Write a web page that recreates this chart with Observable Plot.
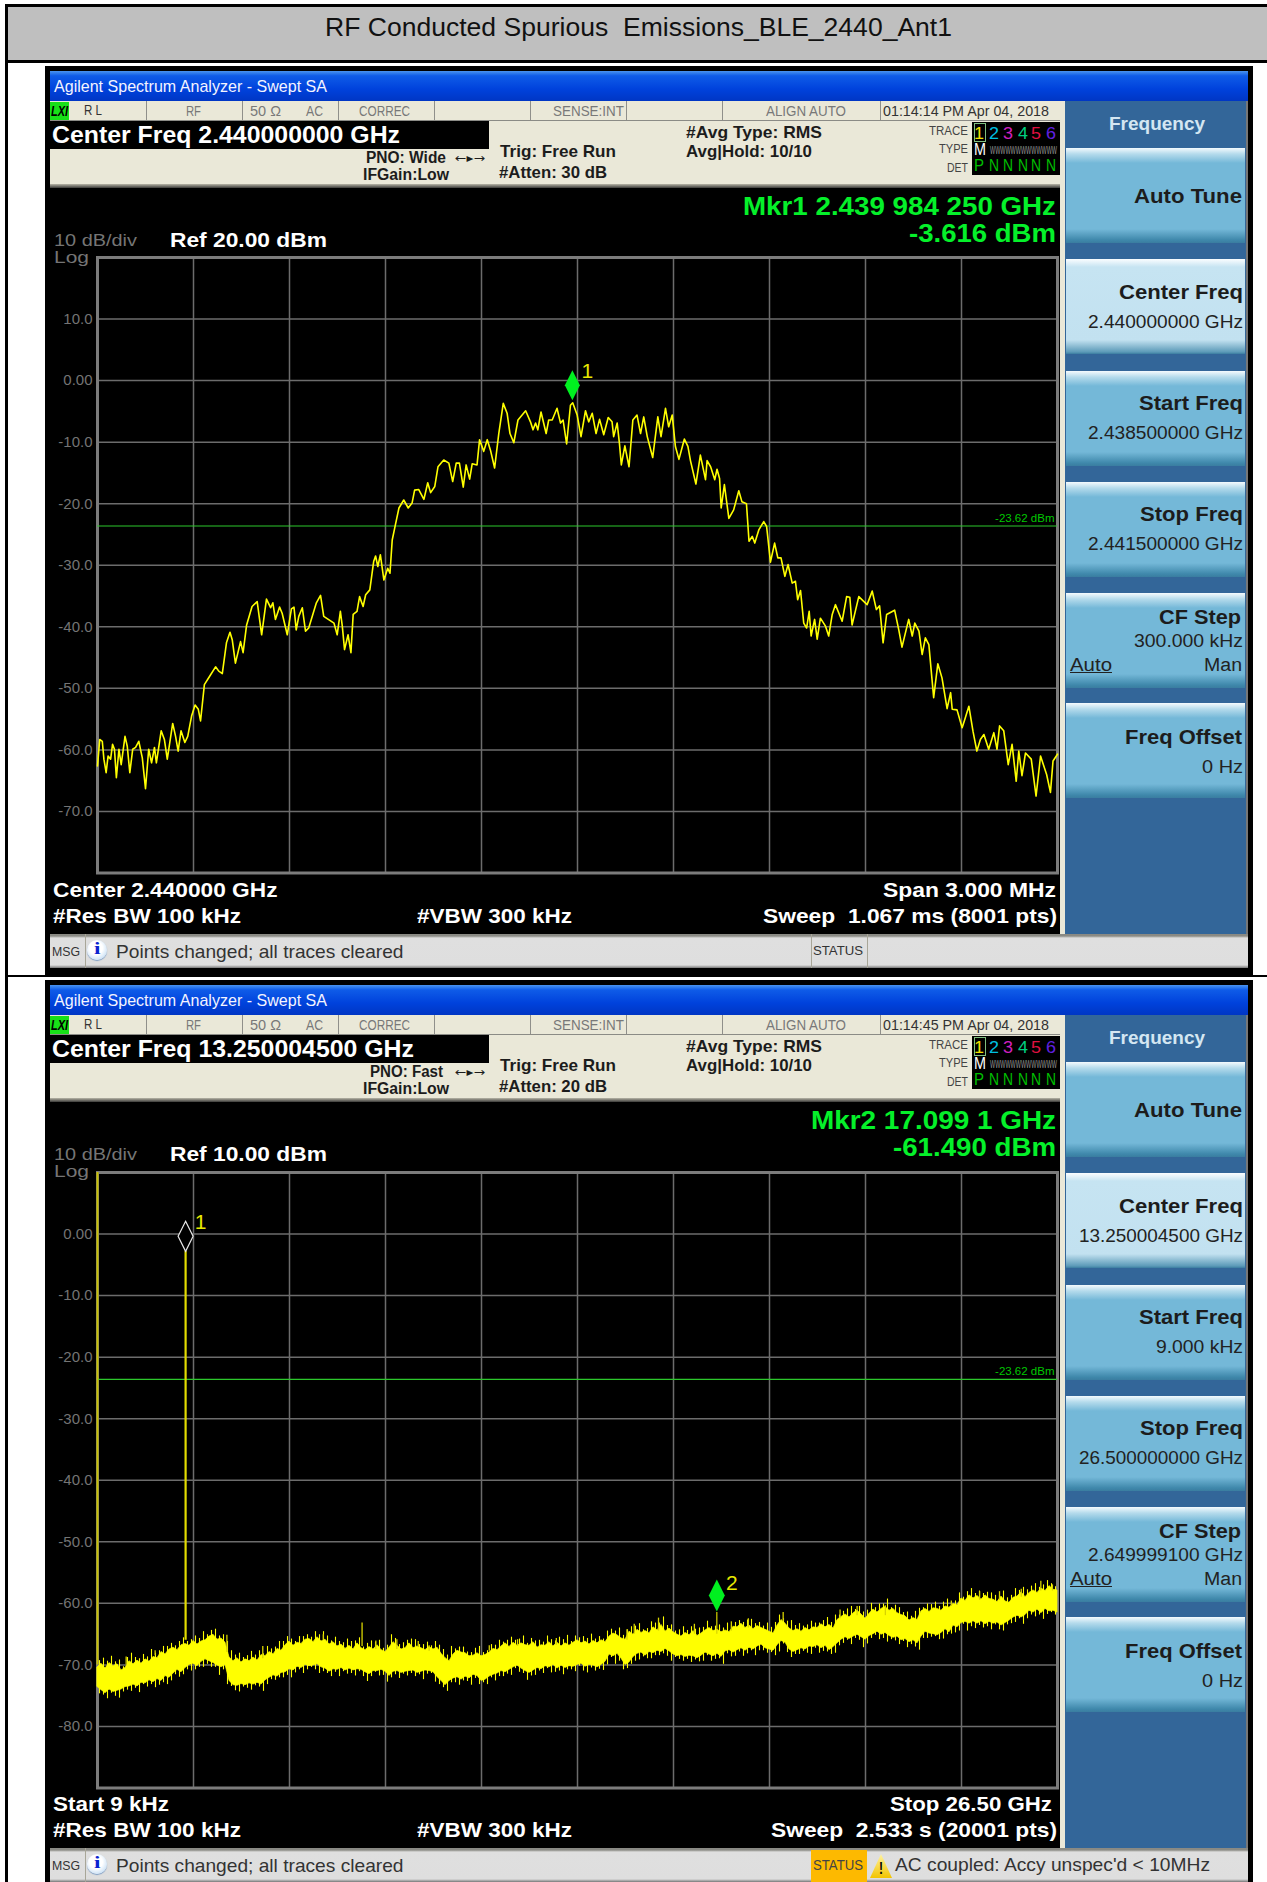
<!DOCTYPE html>
<html><head><meta charset="utf-8">
<script src="https://cdn.jsdelivr.net/npm/d3@7"></script>
<script src="https://cdn.jsdelivr.net/npm/@observablehq/plot@0.6"></script>
<style>
html,body{margin:0;padding:0;background:#fff}
#page{position:relative;width:1267px;height:1882px;overflow:hidden;background:#fff;font-family:"Liberation Sans",Arial,sans-serif}
#page div.b{position:absolute}
#page span.t{position:absolute;white-space:pre;line-height:1;transform-origin:left center}
svg.plot-abs{position:absolute}
</style></head><body><div id="page"></div>
<script>
// ---------- Panel 1: in-band sweep, centre 2.44 GHz, span 3 MHz (offset from start in kHz, level in dBm)
const traceKhz=[0,7,15,20,27,33,41,47,53,59,67,74,86,93,101,110,119,129,140,150,160,169,178,184,199,209,218,235,244,252,261,273,282,294,305,315,322,334,351,369,379,390,403,414,421,431,447,455,466,483,499,513,528,541,548,556,569,577,593,606,614,621,629,640,650,660,684,697,707,739,749,759,765,772,783,792,799,811,819,830,838,851,863,869,876,884,895,907,914,921,931,942,957,971,983,991,1004,1020,1032,1041,1054,1064,1082,1098,1110,1121,1131,1143,1152,1163,1171,1186,1194,1207,1218,1228,1241,1254,1268,1280,1289,1301,1314,1338,1353,1361,1369,1376,1386,1402,1410,1421,1436,1447,1455,1466,1478,1485,1499,1511,1525,1535,1546,1558,1569,1582,1596,1608,1613,1624,1631,1637,1648,1661,1673,1686,1697,1707,1718,1735,1751,1761,1775,1785,1796,1806,1817,1834,1845,1853,1870,1884,1900,1905,1916,1929,1936,1944,1949,1959,1973,1988,2004,2014,2028,2036,2046,2054,2067,2082,2091,2103,2116,2126,2136,2148,2158,2171,2181,2188,2197,2207,2216,2224,2230,2241,2249,2259,2275,2285,2296,2306,2327,2341,2351,2358,2379,2405,2421,2434,2444,2455,2466,2491,2504,2514,2535,2546,2554,2567,2577,2587,2598,2613,2626,2639,2655,2666,2671,2686,2702,2710,2723,2736,2748,2759,2770,2785,2801,2811,2819,2832,2846,2858,2871,2879,2889,2900,2918,2933,2947,2966,2978,2986,3000];
const traceDbm=[-62.6,-58.3,-58.6,-61.5,-63.7,-61.0,-61.5,-59.1,-59.9,-64.5,-59.9,-62.4,-57.8,-59.4,-63.7,-59.9,-59.6,-58.6,-61.3,-66.3,-59.9,-62.1,-59.6,-62.1,-56.9,-58.3,-61.5,-55.7,-57.8,-60.2,-56.9,-58.8,-57.8,-54.5,-52.7,-53.4,-55.3,-49.4,-48.0,-46.5,-47.2,-47.6,-42.6,-40.9,-42.1,-45.9,-42.4,-44.2,-39.7,-36.7,-35.9,-41.3,-35.5,-36.9,-36.1,-38.8,-36.8,-37.8,-41.3,-37.1,-36.8,-40.5,-38.3,-36.9,-40.7,-40.2,-36.1,-34.9,-38.3,-39.4,-41.3,-37.5,-39.9,-43.7,-41.3,-44.2,-38.0,-37.5,-35.1,-36.7,-34.8,-34.0,-29.4,-28.5,-30.2,-28.3,-32.4,-30.5,-31.3,-25.9,-23.4,-20.7,-19.4,-20.7,-19.9,-17.8,-17.7,-19.3,-16.6,-18.2,-17.2,-14.0,-12.9,-13.4,-16.4,-13.4,-13.4,-17.3,-13.7,-16.0,-13.5,-13.7,-9.6,-11.5,-9.6,-11.3,-14.2,-8.6,-3.7,-5.3,-8.6,-10.1,-6.4,-4.9,-6.7,-8.0,-6.9,-8.0,-5.1,-8.6,-6.4,-6.4,-4.5,-6.9,-6.4,-10.3,-4.0,-3.6,-5.6,-9.1,-4.9,-6.7,-5.3,-8.6,-6.3,-8.8,-6.0,-6.7,-9.1,-6.9,-10.2,-13.7,-10.6,-14.0,-6.4,-5.6,-8.6,-5.9,-9.1,-12.5,-5.9,-9.1,-4.5,-7.5,-5.6,-10.7,-12.8,-9.5,-10.7,-13.0,-16.8,-12.1,-16.1,-13.0,-14.0,-16.1,-14.4,-15.9,-20.7,-16.9,-22.4,-21.0,-17.9,-19.7,-20.0,-26.1,-25.3,-26.4,-24.2,-22.9,-23.7,-29.5,-26.4,-28.8,-28.8,-31.8,-29.9,-32.9,-32.6,-35.6,-34.1,-39.4,-40.2,-37.5,-41.5,-38.8,-42.0,-38.6,-39.9,-41.5,-38.0,-36.4,-39.1,-35.1,-35.2,-39.7,-35.1,-36.4,-34.2,-37.2,-36.6,-42.6,-38.0,-37.3,-40.5,-43.3,-38.8,-41.5,-39.4,-40.7,-44.5,-41.8,-42.9,-51.5,-46.0,-48.3,-53.3,-50.7,-53.4,-53.5,-56.4,-55.1,-52.9,-57.0,-60.2,-58.3,-57.5,-59.9,-57.2,-59.9,-56.1,-56.9,-62.4,-59.1,-65.1,-60.2,-64.2,-60.5,-61.5,-67.5,-61.0,-64.0,-66.9,-61.8,-60.7];
const marker1Khz=[1484];
const marker1Dbm=[-3.6];
const limitDbm=-23.62;
const ticks1=[10,0,-10,-20,-30,-40,-50,-60,-70];
// ---------- Panel 2: 9 kHz – 26.5 GHz sweep. Envelope of the noise band, one reading per 1/24 division
const bandTop=[
-70.4,-69.8,-70.6,-69.7,-70.2,-69.9,-70.9,-70.5,-69.4,-69.9,
-69.3,-69.8,-69.1,-69.5,-68.7,-68.9,-67.9,-68.3,-67.5,-67.2,
-67.6,-66.8,-66.6,-66.9,-66.1,-66.7,-66.2,-66.0,-65.4,-65.1,
-65.9,-65.7,-66.4,-68.8,-69.4,-68.9,-69.6,-69.1,-69.4,-68.8,
-69.3,-68.4,-68.6,-67.9,-68.3,-67.4,-67.7,-66.8,-66.2,-66.9,
-66.4,-66.6,-65.9,-65.8,-66.3,-65.5,-66.2,-65.9,-66.7,-66.3,
-67.0,-66.7,-67.4,-66.9,-67.5,-66.5,-67.3,-67.6,-67.1,-67.5,
-66.8,-67.6,-67.9,-67.2,-66.3,-66.9,-67.5,-67.3,-66.5,-67.3,
-67.0,-67.3,-67.6,-67.1,-67.5,-67.2,-68.2,-68.9,-69.4,-68.3,
-67.7,-68.0,-68.1,-68.6,-68.5,-68.1,-68.6,-68.4,-68.0,-67.4,
-67.6,-67.0,-66.5,-67.1,-66.4,-66.9,-66.5,-66.8,-66.9,-66.3,
-67.2,-66.8,-66.9,-66.3,-67.0,-66.4,-67.0,-66.5,-66.9,-66.4,
-66.0,-66.5,-66.2,-66.7,-66.1,-66.5,-66.0,-66.3,-65.4,-64.9,
-65.2,-65.7,-65.9,-64.6,-65.1,-64.3,-64.8,-64.5,-64.9,-63.9,
-64.4,-63.5,-64.6,-64.1,-64.7,-65.1,-65.4,-64.8,-65.2,-64.5,
-65.3,-64.9,-64.4,-64.0,-64.5,-64.3,-64.7,-64.4,-64.7,-63.8,
-63.9,-63.3,-64.0,-63.6,-64.2,-63.7,-64.0,-64.3,-64.6,-64.9,
-63.6,-62.7,-63.3,-64.1,-64.5,-64.2,-64.6,-64.0,-64.4,-63.9,
-64.0,-63.4,-63.9,-63.5,-64.1,-62.7,-62.2,-61.8,-62.3,-61.6,
-61.2,-61.8,-62.5,-61.7,-61.0,-61.5,-60.9,-60.6,-61.2,-60.9,
-61.6,-61.9,-62.1,-62.8,-62.4,-62.7,-61.3,-60.9,-61.4,-60.8,
-60.9,-61.2,-60.5,-60.7,-60.1,-60.3,-59.2,-59.6,-58.7,-59.2,
-58.8,-59.4,-58.7,-59.3,-59.4,-59.8,-58.9,-59.7,-59.9,-59.1,
-58.9,-58.2,-59.0,-58.3,-57.9,-58.3,-57.6,-58.0,-57.2,-57.8,
-57.9];
const bandBottom=[
-73.6,-74.1,-74.6,-74.0,-74.4,-74.2,-74.0,-73.6,-73.5,-73.2,
-73.5,-72.9,-73.0,-72.5,-72.8,-72.3,-72.6,-71.8,-72.1,-71.4,
-70.8,-71.2,-70.5,-70.0,-69.8,-70.2,-69.5,-69.1,-69.4,-69.7,
-70.1,-70.4,-70.0,-72.6,-73.3,-73.4,-73.1,-73.3,-73.0,-73.2,
-72.9,-73.2,-72.5,-72.1,-71.7,-71.9,-71.3,-71.2,-70.7,-70.9,
-70.3,-70.5,-70.0,-70.2,-70.1,-69.9,-70.4,-70.6,-71.1,-70.7,
-70.8,-70.5,-70.9,-70.6,-70.9,-70.7,-70.8,-71.2,-71.5,-71.0,
-71.0,-70.8,-71.1,-71.8,-71.1,-71.0,-71.3,-71.1,-71.0,-70.9,
-71.3,-71.1,-70.9,-71.0,-71.2,-72.0,-72.6,-73.3,-72.6,-72.2,
-72.0,-72.4,-71.9,-72.2,-71.6,-71.8,-72.6,-72.4,-71.9,-71.6,
-71.4,-71.0,-71.2,-70.8,-70.4,-70.1,-70.6,-71.0,-71.3,-70.9,
-70.5,-70.7,-70.2,-70.4,-70.0,-70.6,-70.1,-70.5,-70.2,-70.3,
-70.0,-69.8,-70.3,-70.0,-70.1,-70.4,-70.0,-69.5,-68.3,-68.6,
-68.2,-69.0,-70.0,-69.6,-68.7,-68.2,-68.0,-68.5,-67.9,-68.1,
-67.7,-67.9,-67.4,-67.8,-68.3,-68.6,-68.4,-68.7,-68.5,-68.6,
-68.9,-68.5,-68.0,-68.3,-68.6,-68.2,-68.7,-67.8,-67.6,-68.0,
-67.6,-67.3,-67.7,-67.2,-67.5,-67.0,-66.7,-67.3,-67.5,-67.7,
-66.8,-66.1,-66.4,-67.5,-67.9,-67.6,-67.3,-67.5,-67.0,-67.1,
-66.8,-67.3,-66.9,-67.6,-67.1,-66.5,-65.9,-65.5,-65.8,-65.4,
-65.1,-65.5,-65.9,-65.3,-65.0,-64.6,-65.1,-64.8,-65.3,-65.6,
-65.4,-66.0,-65.8,-66.3,-66.0,-66.5,-65.4,-64.6,-64.9,-65.0,
-65.2,-64.8,-64.2,-64.7,-63.6,-63.9,-63.2,-63.0,-63.3,-62.9,
-63.3,-62.9,-63.4,-63.0,-63.3,-63.1,-63.6,-63.2,-62.8,-62.3,
-62.0,-62.3,-61.9,-61.2,-61.5,-61.0,-61.6,-60.9,-61.3,-61.2,
-61.5];
// height of the fine noise teeth beyond the envelope (dB), one between each pair of envelope readings
const fringeTop=[
.5,.9,.3,1.1,.4,.7,.2,.6,1.3,.5,.3,.8,.4,1.2,.6,.2,.9,.5,.7,.3,
.6,1.0,.4,.2,.8,.5,1.4,.3,.7,.9,.4,.6,.2,1.1,.5,.8,.3,.6,1.0,.4,
.7,.2,.9,.5,.3,1.2,.6,.8,.4,.2,1.0,.5,.7,.3,.9,.4,1.3,.6,.2,.8,
.5,.3,1.1,.7,.4,.9,.2,.6,1.0,.5,.8,.3,.4,1.2,.6,.2,.9,.5,.7,1.1,
.3,.6,.8,.2,1.0,.4,.7,.5,1.3,.3,.6,.9,.2,.5,.8,1.1,.4,.3,.7,.6,
1.0,.2,.5,.9,.4,.7,1.2,.3,.6,.2,.8,.5,1.0,.4,.3,.9,.6,1.3,.2,.7,
.4,.8,.5,1.1,.3,.6,.2,.9,.7,.4,1.2,.5,.3,.8,.6,1.0,.2,.4,.9,.7,
.3,1.3,.5,.6,.2,.8,1.0,.4,.7,.3,.9,.5,1.1,.2,.6,.8,.4,1.2,.3,.7,
.5,.2,.9,1.0,.4,.6,.3,1.1,.7,.5,.8,.2,.4,1.3,.6,.9,.3,.5,1.0,.7,
.2,.6,1.2,.4,.8,.3,.5,.9,1.1,.2,.7,.4,.6,1.0,.3,.8,.5,1.3,.2,.6,
.9,.4,.7,.3,1.1,.5,.2,.8,.6,1.0,.4,.7,1.2,.3,.5,.9,.2,.6,1.1,.4,
.8,.3,.5,1.0,.7,.2,.9,.6,.4,1.3,.3,.8,.5,.7,1.1,.2,.6,.9,.4,.5];
const fringeBottom=[
.6,.3,.9,.2,.7,1.2,.4,.5,.8,.3,1.0,.2,.6,.4,.9,.7,.3,1.1,.5,.2,
.8,.4,.3,1.0,.6,.2,.9,.5,.7,.3,1.3,.4,.6,.2,.8,1.0,.3,.5,.9,.2,
.4,1.1,.7,.3,.6,.2,.8,.5,1.2,.4,.3,.9,.6,.2,.7,1.0,.5,.3,.8,.4,
1.1,.2,.6,.5,.9,.3,.7,1.2,.4,.2,.8,.6,1.0,.3,.5,.9,.2,.7,.4,.6,
.3,1.3,.5,.2,.8,.6,.4,1.0,.3,.7,.9,.2,.5,1.1,.4,.6,.3,.8,.2,1.0,
.5,.7,.3,.9,.2,.6,.4,1.2,.5,.8,.3,.7,.2,.9,.6,.4,1.1,.3,.5,.8,
.2,.7,1.0,.4,.6,.3,.9,.5,.2,1.3,.4,.8,.6,.3,.7,1.0,.2,.5,.9,.4,
.6,.3,.8,1.1,.2,.5,.7,.4,1.0,.3,.6,.9,.2,.8,.5,.3,1.2,.4,.7,.6,
.3,.9,.5,.2,1.0,.7,.4,.6,.3,.8,1.1,.2,.5,.9,.4,.7,.3,.6,1.2,.2,
.8,.5,.3,.7,1.0,.4,.6,.2,.9,.3,.5,1.3,.7,.4,.2,.8,.6,1.0,.3,.5,
.7,.2,.9,.4,.6,1.1,.3,.8,.5,.2,.7,1.0,.4,.3,.9,.6,.2,1.2,.5,.8,
.3,.6,.4,1.0,.2,.7,.9,.3,.5,.8,.2,1.1,.6,.4,.7,.3,1.0,.5,.2,.4];
const spikeGhz=[0.80,1.60,3.58,4.57,6.24,7.31,7.69,8.27,8.86,9.16,10.82,11.6,12.67,14.62,14.82,15.49,16.48,17.5,17.97,18.93,20.5,20.97,21.75,23.57,24.35,24.9,25.5,26.04,26.36];
const spikeTop=[-68.7,-67.7,-65.2,-67.0,-65.1,-63.2,-66.1,-65.9,-66.2,-66.9,-66.9,-65.9,-65.7,-64.3,-63.4,-62.4,-63.4,-63.0,-62.5,-61.5,-61.1,-60.5,-60.4,-59.6,-58.1,-58.1,-57.7,-56.4,-57.0];
const spikeBase=[-70,-68.5,-68,-69,-66,-67,-67.5,-67.5,-67,-67.8,-67.8,-67,-66.8,-66,-65,-64.5,-65,-64.5,-64,-63,-62.5,-62,-62,-60.5,-59.5,-59.5,-59,-58,-58];
const carrierGhz=2.44, carrierTop=-2.8, carrierBase=-66;
const marker2Ghz=17.0991, marker2Dbm=-61.49;
const ticks2=[0,-10,-20,-30,-40,-50,-60,-70,-80];
const startGhz=0.009, stopGhz=26.5;

const page=document.getElementById("page");
function B(x0,y0,x1,y1,bg,extra){const d=document.createElement("div");d.className="b";
 d.style.cssText=`left:${x0}px;top:${y0}px;width:${x1-x0}px;height:${y1-y0}px;background:${bg};${extra||""}`;page.appendChild(d);return d;}
function T(s,x0,x1,yc,size,color,weight,extra){const e=document.createElement("span");e.className="t";e.textContent=s;
 e.style.cssText=`left:${x0}px;top:${yc}px;font-size:${size}px;color:${color};font-weight:${weight||400};${extra||""}`;
 page.appendChild(e);const w=e.getBoundingClientRect().width;e.style.transform=`translateY(-50%) scaleX(${(x1-x0)/w})`;return e;}
const K="#1c1c1c";
const keyGrad="linear-gradient(#f4fafd 0,#b5dbec 6px,#74b8d8 15px,#74b8d8 calc(100% - 14px),#3f88ab calc(100% - 3px),#3a7da0 100%)";
const selGrad="linear-gradient(#fafdff 0,#c6e4f2 8px,#c2e1f0 calc(100% - 14px),#5c9ab8 calc(100% - 2px),#3a7da0 100%)";

// page frame
B(5,4,1267,7,"#000");B(5,7,8,62,"#000");B(8,7,1267,60,"#bfbfbf");B(5,60,1267,63,"#000");B(5,63,8,1882,"#000");B(5,975,1267,977,"#000");
T("RF Conducted Spurious  Emissions_BLE_2440_Ant1",325,952,27,26,"#111");

function panel(o,c){
 B(45,66+o,1253,o?1882:975,"#000");
 B(50,71+o,1248,101+o,"linear-gradient(#4a94f0 0,#0f5ce8 16%,#0042dc 60%,#0036c4 100%)");
 T("Agilent Spectrum Analyzer - Swept SA",54,327,86+o,17,"#f4f4ff");
 // status strip
 B(50,101+o,1064,121+o,"#eae8d8");B(50,120+o,1060,121+o,"#8b8b86");
 B(50,102+o,69,120+o,"#18e018");T("LXI",51,68,110+o,15,"#000",700,"font-style:italic");
 [146,242,338,434,530,626,722,880].forEach(x=>B(x,101+o,x+1,120+o,"#8f8f8a"));
 const G="#787878";
 T("R L",84,102,110+o,14,"#333");T("RF",186,201,110+o,15,G);T("50 Ω",250,281,110+o,15,G);T("AC",306,323,110+o,15,G);
 T("CORREC",359,410,110+o,15,G);T("SENSE:INT",553,624,110+o,15,G);T("ALIGN AUTO",766,846,110+o,15,G);
 T(c.clock,883,1049,110+o,15,"#333");
 // info area
 B(50,121+o,1060,184+o,"#eae8d8");B(50,184+o,1060,188+o,"linear-gradient(#b8b6a8,#3a3a38)");
 B(50,121+o,489,149+o,"#000");T(c.center,52,c.centerEnd,135+o,23,"#fff",700);
 T(c.pno,c.pnoX,c.pnoEnd,157.5+o,16,K,700);T("←▸→",455,485,157.5+o,12,K,400,"font-family:'DejaVu Sans'");
 T("IFGain:Low",363,449,174.5+o,16,K,700);
 T("Trig: Free Run",500,616,151+o,17,K,700);T(c.atten,499,607,171.5+o,17,K,700);
 T("#Avg Type: RMS",686,822,131.5+o,17,K,700);T("Avg|Hold: 10/10",686,812,150.5+o,17,K,700);
 T("TRACE",929,968,130.5+o,12.5,"#444");T("TYPE",939,968,148.5+o,12.5,"#444");T("DET",947,968,167.5+o,12.5,"#444");
 B(972,122+o,1060,175+o,"#000");
 B(974,123+o,986,142+o,"transparent","border:1px solid #7fbf7f;box-sizing:border-box");
 ["1","2","3","4","5","6"].forEach((n,i)=>{const xc=[979,994,1008,1023,1036,1051][i];
  T(n,xc-5,xc+5,133+o,17,["#f0e000","#00c0e0","#d020c0","#00d080","#e01040","#6020e0"][i]);
  T(i?"N":"P",xc-5,xc+5,166+o,16,"#00c000");});
 T("M",974,986,150+o,16,"#fff");T("WWWWWWWWWWWWW",990,1057,150+o,11,"#9a9a9a");
 // readouts
 T(c.mkr,c.mkrX,1056,206+o,26,"#05f02a",700);T(c.mkrVal,c.mkrValX,1056,233+o,26,"#05f02a",700);
 T("10 dB/div",54,137,239.5+o,17,"#757575");T("Log",54,89,256.5+o,17,"#757575");
 T(c.ref,170,327,239+o,21,"#fff",700);
 T(c.bl,53,c.blEnd,889+o,21,"#fff",700);T("#Res BW 100 kHz",53,241,914.5+o,21,"#fff",700);T("#VBW 300 kHz",417,572,914.5+o,21,"#fff",700);
 T(c.br,c.brX,c.brEnd,889+o,21,"#fff",700);T(c.sweep,c.sweepX,1057,914.5+o,21,"#fff",700);
 // message bar
 B(50,934+o,1248,968+o,"linear-gradient(#8a8a84 0,#8a8a84 2px,#dfdfdf 4px,#dedede calc(100% - 3px),#777 100%)");
 B(85,934+o,86,968+o,"#a8a698");T("MSG",52,80,952+o,12,"#333");
 B(87,940+o,107,960+o,"radial-gradient(circle at 45% 40%,#fff 40%,#a8cdf0)","border-radius:50%;box-shadow:0 1px 1px #7c9cc4;");
 T("i",93.5,100,949+o,16,"#0a22d0",700,"font-family:'Liberation Serif'");
 T("Points changed; all traces cleared",115.5,403,951.5+o,18.5,"#333");
 if(c.warn){B(811,936+o,867,968+o,"#fdb900");T("STATUS",813,863,951+o,14,"#444");
  B(870,940+o,892,964+o,"linear-gradient(#fff3a0,#f2c400)","clip-path:polygon(50% 0,100% 100%,0 100%)");
  T("!",879,883,954+o,17,"#000",700);
  T(c.warn,895,1210,951+o,18.5,"#333");}
 else{B(811,934+o,812,968+o,"#a8a698");B(867,934+o,868,968+o,"#a8a698");T("STATUS",813,863,951+o,12,"#333");}
 // softkeys
 B(1060,101+o,1065,934+o,"#eae8d8");B(1065,101+o,1248,934+o,"#336699");B(1246,101+o,1248,934+o,"#777");
 T("Frequency",1109,1205,124+o,18,"#d4e6f2",700);
 const tops=[148,259,371,482,593,703];
 tops.forEach((y,i)=>B(1066,y+o,1245,y+95+o,i==1?selGrad:keyGrad));
 T("Auto Tune",1134,1242,195+o,21,K,700);
 T("Center Freq",1119,1243,291+o,21,K,700);T(c.kCenter,c.kCenterX,1243,323+o,17.5,"#222");
 T("Start Freq",1139,1243,402+o,21,K,700);T(c.kStart,c.kStartX,1243,434+o,17.5,"#222");
 T("Stop Freq",1140,1243,513+o,21,K,700);T(c.kStop,c.kStopX,1243,545+o,17.5,"#222");
 T("CF Step",1159,1241,616+o,21,K,700);T(c.kStep,c.kStepX,1243,642+o,17.5,"#222");
 T("Auto",1070,1112,664.5+o,18,"#222",400,"text-decoration:underline");T("Man",1204,1242,664.5+o,18,"#222");
 T("Freq Offset",1125,1242,736+o,21,K,700);T("0 Hz",1202,1243,767.5+o,17.5,"#222");
}
panel(0,{clock:"01:14:14 PM Apr 04, 2018",center:"Center Freq 2.440000000 GHz",centerEnd:400,pno:"PNO: Wide",pnoX:366,pnoEnd:446,atten:"#Atten: 30 dB",
 mkr:"Mkr1 2.439 984 250 GHz",mkrX:743,mkrVal:"-3.616 dBm",mkrValX:909,ref:"Ref 20.00 dBm",bl:"Center 2.440000 GHz",blEnd:277.5,br:"Span 3.000 MHz",brX:883,brEnd:1056,
 sweep:"Sweep  1.067 ms (8001 pts)",sweepX:763,kCenter:"2.440000000 GHz",kCenterX:1088,kStart:"2.438500000 GHz",kStartX:1088,kStop:"2.441500000 GHz",kStopX:1088,kStep:"300.000 kHz",kStepX:1134});
panel(914,{clock:"01:14:45 PM Apr 04, 2018",center:"Center Freq 13.250004500 GHz",centerEnd:414,pno:"PNO: Fast",pnoX:370,pnoEnd:443,atten:"#Atten: 20 dB",
 mkr:"Mkr2 17.099 1 GHz",mkrX:811,mkrVal:"-61.490 dBm",mkrValX:893,ref:"Ref 10.00 dBm",bl:"Start 9 kHz",blEnd:169,br:"Stop 26.50 GHz",brX:890,brEnd:1052,
 sweep:"Sweep  2.533 s (20001 pts)",sweepX:771,kCenter:"13.250004500 GHz",kCenterX:1079,kStart:"9.000 kHz",kStartX:1156,kStop:"26.500000000 GHz",kStopX:1079,kStep:"2.649999100 GHz",kStepX:1088,
 warn:"AC coupled: Accy unspec'd < 10MHz"});

// ---------- plots
const tallDiamond={draw(ctx,size){const r=Math.sqrt(size/Math.PI);ctx.moveTo(0,-r);ctx.lineTo(r/2,0);ctx.lineTo(0,r);ctx.lineTo(-r/2,0);ctx.closePath();}};
const fmtTick=d=>d===0?"0.00":d.toFixed(1);
const GRID="#6c6c6c",FRAME="#7c7c7c",FONT="Liberation Sans";
function spectrum(top,xDomain,yDomain,ticks,limitLabelX,marks){
 const xTicks=d3.range(1,10).map(i=>xDomain[0]+(xDomain[1]-xDomain[0])*i/10);
 const p=Plot.plot({width:1018,height:628,marginLeft:52,marginRight:6,marginTop:6,marginBottom:6.5,
  style:{background:"transparent",fontFamily:FONT,overflow:"visible"},
  x:{domain:xDomain,axis:null},y:{domain:yDomain,axis:null},
  marks:[
   Plot.ruleX(xTicks,{stroke:GRID,strokeWidth:1.5}),
   Plot.ruleY(ticks,{stroke:GRID,strokeWidth:1.5}),
   Plot.axisY({ticks,anchor:"left",tickSize:0,tickPadding:5,fontSize:15,color:"#747474",tickFormat:fmtTick,label:null}),
   Plot.frame({stroke:FRAME,strokeWidth:3}),
   Plot.ruleY([limitDbm],{stroke:"#2cc82c",strokeWidth:1.2}),
   Plot.text(["-23.62 dBm"],{x:[limitLabelX],y:[limitDbm],textAnchor:"end",dx:-3,dy:-8,fontSize:11.5,fill:"#00c800"}),
   ...marks]});
 p.classList.add("plot-abs");p.style.left="45px";p.style.top=top+"px";page.appendChild(p);
}
spectrum(251,[0,3000],[-80,20],ticks1,3000,[
 Plot.line(traceKhz,{x:traceKhz,y:traceDbm,stroke:"#ffff00",strokeWidth:1.6,curve:"linear"}),
 Plot.dot(marker1Khz,{x:marker1Khz,y:marker1Dbm,symbol:tallDiamond,r:15,dy:-17.5,fill:"#00f020",stroke:"none"}),
 Plot.text(["1"],{x:marker1Khz,y:marker1Dbm,dx:15,dy:-31,fontSize:21,fill:"#e8e800"})
]);
const bandIdx=d3.range(bandTop.length);
const sweepStep=(stopGhz-startGhz)/(bandTop.length-1);
const bandGhz=bandIdx.map(i=>startGhz+i*sweepStep);
const fringeIdx=d3.range(fringeTop.length);
const fringeGhz=fringeIdx.map(i=>startGhz+(i+0.5)*sweepStep);
const bandMid=fringeIdx.map(i=>(bandTop[i]+bandBottom[i])/2);
const fringeHi=fringeIdx.map(i=>Math.max(bandTop[i],bandTop[i+1])+fringeTop[i]);
const fringeLo=fringeIdx.map(i=>Math.min(bandBottom[i],bandBottom[i+1])-fringeBottom[i]);
spectrum(1165.5,[startGhz,stopGhz],[-90,10],ticks2,stopGhz,[
 Plot.ruleX([startGhz],{y1:10,y2:-70,stroke:"#c8c000",strokeWidth:2}),
 Plot.areaY(bandIdx,{x:bandGhz,y1:bandBottom,y2:bandTop,fill:"#ffff00",stroke:"#ffff00",strokeWidth:0.7,curve:"linear"}),
 Plot.ruleX(fringeIdx,{x:fringeGhz,y1:bandMid,y2:fringeHi,stroke:"#ffff00",strokeWidth:1.1}),
 Plot.ruleX(fringeIdx,{x:fringeGhz,y1:bandMid,y2:fringeLo,stroke:"#ffff00",strokeWidth:1.1}),
 Plot.ruleX(spikeGhz,{x:spikeGhz,y1:spikeBase,y2:spikeTop,stroke:"#d8d400",strokeWidth:1.3}),
 Plot.ruleX([carrierGhz],{y1:carrierBase,y2:carrierTop,stroke:"#e2dc00",strokeWidth:2.2}),
 Plot.ruleX([marker2Ghz],{y1:-65,y2:marker2Dbm,stroke:"#d8d400",strokeWidth:1.2}),
 Plot.dot([carrierGhz],{x:[carrierGhz],y:[carrierTop],symbol:tallDiamond,r:15,dy:-15,fill:"#000",stroke:"#e8e8e8",strokeWidth:1.2}),
 Plot.text(["1"],{x:[carrierGhz],y:[carrierTop],dx:15,dy:-29,fontSize:21,fill:"#e8e800"}),
 Plot.dot([marker2Ghz],{x:[marker2Ghz],y:[marker2Dbm],symbol:tallDiamond,r:16,dy:-17,fill:"#00f020",stroke:"none"}),
 Plot.text(["2"],{x:[marker2Ghz],y:[marker2Dbm],dx:15,dy:-29,fontSize:21,fill:"#e8e800"})
]);
</script></body></html>
